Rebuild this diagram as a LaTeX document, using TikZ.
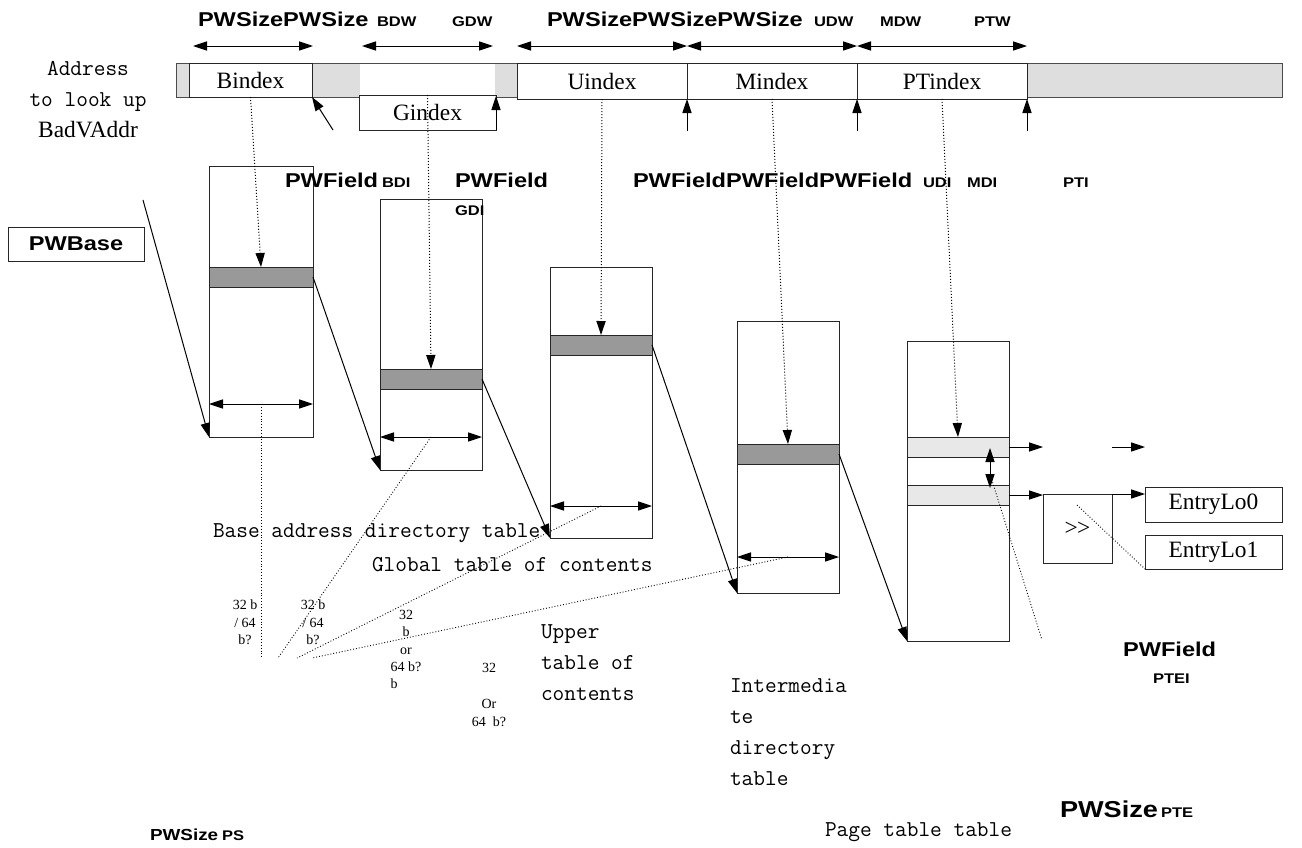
\documentclass[tikz,border=0pt]{standalone}
\usepackage{fontspec}
\setmainfont{Liberation Serif}
\setsansfont[FakeStretch=1.18]{Liberation Sans}
\usetikzlibrary{arrows.meta,fit,calc}

\definecolor{bargray}{HTML}{DEDEDE}
\definecolor{bandgray}{HTML}{999999}
\definecolor{litegray}{HTML}{E8E8E8}

\newcommand\hlab{\sffamily\bfseries\fontsize{10}{12}\selectfont}
\newcommand\hsub{\sffamily\bfseries\fontsize{7}{8}\selectfont}
\newcommand\monotxt{\ttfamily\fontsize{11.35}{15.5}\selectfont}
\newcommand\fieldtxt{\rmfamily\fontsize{11.7}{14}\selectfont}
\newcommand\tinytxt{\rmfamily\fontsize{7}{8.7}\selectfont}

\begin{document}
\begin{tikzpicture}[x=0.5pt, y=-0.5pt,
    >={Triangle[length=7pt,width=4.6pt]},
    every node/.style={inner sep=0pt, outer sep=0pt},
    cellbox/.style={draw=black!85, line width=0.5pt, fill=white},
    pxbox/.style 2 args={minimum width=#1*0.5pt, minimum height=#2*0.5pt},
    darkband/.style={draw=black!85, line width=0.5pt, fill=bandgray},
    liteband/.style={draw=black!85, line width=0.5pt, fill=litegray},
    conn/.style={line width=0.5pt, ->},
    dimarrow/.style={line width=0.5pt, <->},
    idx/.style={densely dotted, line width=0.5pt, ->},
    dotline/.style={densely dotted, line width=0.45pt},
    sz/.style={font=\hlab, anchor=base west},
    szsub/.style={font=\hsub, anchor=base west},
  ]
\useasboundingbox (0,0) rectangle (1302,847);

% address register
\node[draw=black!70, line width=0.5pt, fill=bargray, fit={(176,63) (1282,97)}] (bar) {};
\node[fill=white, fit={(360,64) (495,96)}] (gslot) {};
\node[cellbox, pxbox={123}{34}, font=\fieldtxt] (bidx) at (250.5,80) {Bindex};
\node[cellbox, pxbox={137}{35}, font=\fieldtxt] (gidx) at (427.5,112.5) {Gindex};
\node[cellbox, pxbox={170}{36}, font=\fieldtxt] (uidx) at (602,81) {Uindex};
\node[cellbox, pxbox={170}{36}, font=\fieldtxt] (midx) at (772,81) {Mindex};
\node[cellbox, pxbox={170}{36}, font=\fieldtxt] (ptidx) at (942,81) {PTindex};

\node[font=\monotxt, align=center, anchor=north] (addr) at (88,61)
  {Address\\to look up\\{\fieldtxt BadVAddr}};

% field widths
\foreach \a/\b [count=\i] in {193/313, 362/493, 517/687, 687/857, 857/1027} {
  \coordinate (wl\i) at (\a,46);
  \coordinate (wr\i) at (\b,46);
  \draw[dimarrow] (wl\i) -- (wr\i);
}
\node[sz] (szb) at (198,26) {PWSizePWSize};
\node[szsub] (bdw) at (377,26) {BDW};
\node[szsub] (gdw) at (452,26) {GDW};
\node[sz] (szu) at (547,26) {PWSizePWSizePWSize};
\node[szsub] (udw) at (814,26) {UDW};
\node[szsub] (mdw) at (880,26) {MDW};
\node[szsub] (ptw) at (974,26) {PTW};

% field boundaries
\coordinate (bptr) at (333,130);
\draw[conn] (bptr) -- (bidx.south east);
\draw[conn] (gidx.south east) -- (gidx.south east |- gslot.south);
\foreach \n in {uidx, midx, ptidx}
  \draw[conn] ([yshift=-16pt]\n.south east) -- (\n.south east);

\node[cellbox, pxbox={136}{34}, font=\hlab] (pwbase) at (76,244) {PWBase};

% directory tables
\node[cellbox, fit={(209,166) (313,437)}] (base) {};
\node[darkband, fit={(209,267) (313,287)}] (bband) {};
\node[cellbox, fit={(380,199) (482,470)}] (glob) {};
\node[darkband, fit={(380,369) (482,389)}] (gband) {};
\node[cellbox, fit={(550,267) (652,538)}] (upper) {};
\node[darkband, fit={(550,335) (652,355)}] (uband) {};
\node[cellbox, fit={(737,321) (839,593)}] (mid) {};
\node[darkband, fit={(737,444) (839,464)}] (mband) {};
\node[cellbox, fit={(907,341) (1009,641)}] (page) {};
\node[liteband, fit={(907,437) (1009,457)}] (pband1) {};
\node[liteband, fit={(907,485) (1009,505)}] (pband2) {};

\node[sz] (fbdi) at (285,187) {PWField};
\node[szsub] (bdi) at (382,187) {BDI};
\node[sz] (fgdi) at (455,187) {PWField};
\node[szsub] (gdi) at (455,215) {GDI};
\node[sz] (fudi) at (633,187) {PWFieldPWFieldPWField};
\node[szsub] (udi) at (923,187) {UDI};
\node[szsub] (mdi) at (967,187) {MDI};
\node[szsub] (pti) at (1063,187) {PTI};

\coordinate (pwtail) at (143,200);
\draw[conn] (pwtail) -- (base.south west);
\foreach \a/\b in {bband/glob, gband/upper, uband/mid, mband/page}
  \draw[conn] (\a.east) -- (\b.south west);

\foreach \a/\b in {bidx.south/bband.north, gidx.north/gband.north,
    uidx.south/uband.north, midx.south/mband.north, ptidx.south/pband1.north}
  \draw[idx] (\a) -- (\b);

% entry sizes
\coordinate (ps1) at (261,658);
\coordinate (ps2) at (278,658);
\coordinate (ps3) at (297,658);
\coordinate (ps4) at (312,658);
\foreach \t/\y/\p in {base/404/ps1, glob/437/ps2, upper/506/ps3, mid/557/ps4} {
  \coordinate (\t-w) at (\t.west |- 0,\y);
  \coordinate (\t-e) at (\t.east |- 0,\y);
  \draw[dimarrow] (\t-w) -- (\t-e);
  \draw[dotline] ($(\t-w)!.5!(\t-e)$) -- (\p);
}

\node[font=\tinytxt, align=center, anchor=north] (sz1) at (245,600) {32 b\\/ 64\\b?};
\node[font=\tinytxt, align=center, anchor=north] (sz2) at (313,600) {32 b\\/ 64\\b?};
\node[font=\tinytxt, align=center, anchor=north] (sz3) at (406,610)
  {32\\b\\or\\64 b?\\b\phantom{4 b?}};
\node[font=\tinytxt, align=center, anchor=north] (sz4) at (489,663)
  {32\\[9.5pt]Or\\64\ \ b?};

% page table entries
\node[cellbox, pxbox={69}{69}, font=\fieldtxt] (shift) at (1077.5,528.5) {>\kern-0.3pt>};
\node[cellbox, pxbox={137}{35}, font=\fieldtxt] (lo0) at (1213.5,504.5) {EntryLo0};
\node[cellbox, pxbox={137}{34}, font=\fieldtxt] (lo1) at (1213.5,552) {EntryLo1};

\coordinate (pte0) at (1043,447);
\coordinate (pte0b) at (1112,447);
\coordinate (pte0c) at (1145,447);
\draw[conn] (pband1.east) -- (pte0);
\draw[conn] (pte0b) -- (pte0c);
\draw[conn] (pband2.east) -- (pband2.east -| shift.west);
\draw[conn] (shift.north east) -- (shift.north east -| lo0.west);
\coordinate (vt) at (990,448);
\coordinate (vb) at (990,488);
\draw[dimarrow] (vt) -- (vb);
\coordinate (pteend) at (1042,640);
\draw[dotline] ($(vt)!.65!(vb)$) -- (pteend);
\coordinate (shin) at (1077,505);
\draw[dotline] (shin) -- (lo1.south west);

\node[sz] (fptei) at (1123,656) {PWField};
\node[szsub] (ptei) at (1153,683) {PTEI};
\node[sz, font=\sffamily\bfseries\fontsize{11.5}{13}\selectfont] (szpte) at (1060,817) {PWSize};
\node[szsub] (pte) at (1161,817) {PTE};
\node[sz, font=\sffamily\bfseries\fontsize{8}{10}\selectfont] (szps) at (150,840) {PWSize};
\node[szsub] (ps) at (222,840) {PS};

% table names
\node[font=\monotxt, anchor=base west] (bdt) at (213,537) {Base address directory table};
\node[font=\monotxt, anchor=base west] (gtc) at (372,571) {Global table of contents};
\node[font=\monotxt, align=left, anchor=north west] (utc) at (541,625) {Upper\\table of\\contents};
\node[font=\monotxt, align=left, anchor=north west] (idt) at (730,679) {Intermedia\\te\\directory\\table};
\node[font=\monotxt, anchor=base west] (ptt) at (825,836) {Page table table};
\end{tikzpicture}
\end{document}
